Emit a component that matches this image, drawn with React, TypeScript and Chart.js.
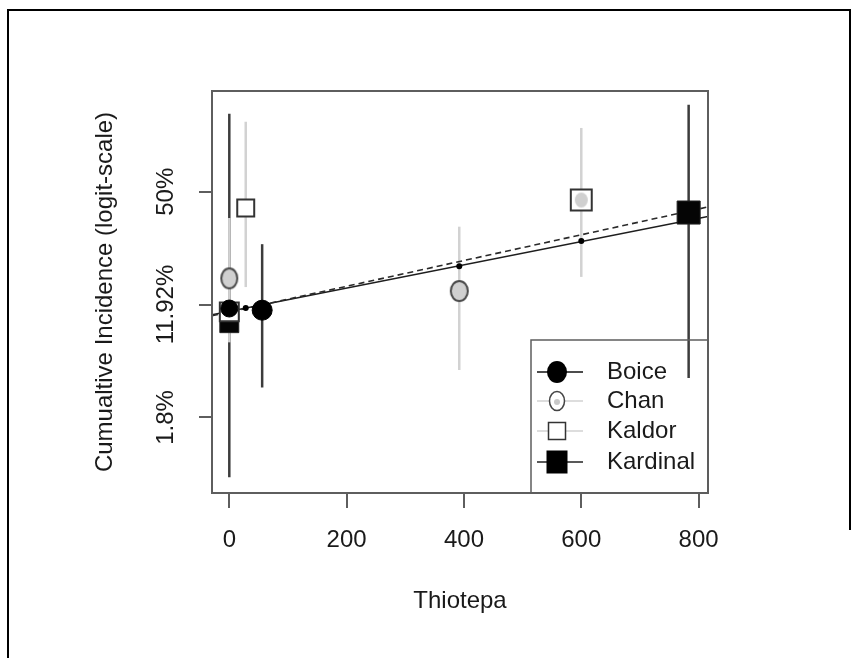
import React, { useEffect, useRef } from "react";
import { Chart, registerables } from "chart.js";

Chart.register(...registerables);

// ---------- data (y values are on the logit scale) ----------
const studies = ["Boice", "Chan", "Kaldor", "Kardinal"];
const xTicks = [0, 200, 400, 600, 800];
const yTickValues = [-4, -2, 0];
const yTickLabels = ["1.8%", "11.92%", "50%"];

const boiceX = [0, 56];
const boiceY = [-2.07, -2.1];
const boiceBarX = [56];
const boiceBarLo = [-3.47];
const boiceBarHi = [-0.93];

const chanX = [0, 392, 600];
const chanY = [-1.535, -1.76, -0.147];
const chanBarX = [0, 392];
const chanBarLo = [-2.67, -3.16];
const chanBarHi = [-0.466, -0.62];

const kaldorX = [0, 28, 600];
const kaldorY = [-2.13, -0.29, -0.147];
const kaldorBarX = [28, 600];
const kaldorBarLo = [-1.69, -1.51];
const kaldorBarHi = [1.24, 1.13];

const kardinalX = [0, 783];
const kardinalY = [-2.33, -0.369];
const kardinalBarX = [0, 783];
const kardinalBarLo = [-5.06, -3.3];
const kardinalBarHi = [1.38, 1.54];

const fittedX = [28, 392, 600];
const fittedY = [-2.06, -1.32, -0.874];

const fitSolidX = [-29.5, 816];
const fitSolidY = [-2.18, -0.44];
const fitDashedX = [-29.5, 816];
const fitDashedY = [-2.2, -0.27];

const xMin = -29.5;
const xMax = 816;
const yMin = -5.34;
const yMax = 1.785;

// ---------- styles ----------
const FONT = "'Liberation Sans', Arial, Helvetica, sans-serif";
const TEXT = "#1a1a1a";
const AXIS = "#5e5e5e";
const DARK_BAR = "#3c3c3c";
const LIGHT_BAR = "#d2d2d2";
const boiceRadius = [8.5, 10];
const kaldorRadius = [13.4, 12, 14.8];
const kardinalRadius = [13.4, 16.3];
const chanSizes: [number, number, boolean][] = [
  [18, 22, true],
  [19, 22, true],
  [13, 15, false],
];

function makeEllipse(w: number, h: number, fill: string, stroke: string | null, lw: number) {
  const c = document.createElement("canvas");
  c.width = w + 2;
  c.height = h + 2;
  const g = c.getContext("2d")!;
  g.beginPath();
  const sw = stroke ? lw : 0;
  g.ellipse(c.width / 2, c.height / 2, (w - sw) / 2, (h - sw) / 2, 0, 0, Math.PI * 2);
  g.fillStyle = fill;
  g.fill();
  if (stroke) {
    g.lineWidth = lw;
    g.strokeStyle = stroke;
    g.stroke();
  }
  return c;
}

function barSets(xs: number[], lo: number[], hi: number[], color: string, order: number) {
  return xs.map((x, i) => ({
    data: [
      { x, y: lo[i] },
      { x, y: hi[i] },
    ],
    showLine: true,
    borderColor: color,
    borderWidth: 2.5,
    pointRadius: 0,
    order,
  }));
}

const pts = (xs: number[], ys: number[]) => xs.map((x, i) => ({ x, y: ys[i] }));

export default function App() {
  const ref = useRef<HTMLCanvasElement>(null);

  useEffect(() => {
    const canvas = ref.current!;
    const chanImgs = chanSizes.map(([w, h, b]) =>
      makeEllipse(w, h, "#d0d0d0", b ? "#4a4a4a" : null, 2)
    );

    const decor = {
      id: "decor",
      beforeDraw(chart: any) {
        const ctx = chart.ctx;
        ctx.save();
        ctx.fillStyle = "#ffffff";
        ctx.fillRect(0, 0, chart.width, chart.height);
        ctx.restore();
      },
      afterDraw(chart: any) {
        const ctx = chart.ctx;
        const a = chart.chartArea;
        const ys = chart.scales.y;
        ctx.save();
        // plot box
        ctx.strokeStyle = AXIS;
        ctx.lineWidth = 2;
        ctx.strokeRect(a.left, a.top, a.right - a.left, a.bottom - a.top);
        // outer frame
        ctx.strokeStyle = "#000";
        ctx.lineWidth = 2;
        ctx.beginPath();
        ctx.moveTo(8, 658);
        ctx.lineTo(8, 10);
        ctx.lineTo(850, 10);
        ctx.lineTo(850, 530);
        ctx.stroke();
        // y tick labels (parallel to axis)
        ctx.fillStyle = TEXT;
        ctx.font = `24px ${FONT}`;
        ctx.textAlign = "center";
        ctx.textBaseline = "middle";
        yTickValues.forEach((v, i) => {
          const py = ys.getPixelForValue(v);
          ctx.save();
          ctx.translate(166, py);
          ctx.rotate(-Math.PI / 2);
          ctx.fillText(yTickLabels[i], 0, 0);
          ctx.restore();
        });
        // legend
        const lx = 531, ly = 340;
        ctx.strokeStyle = AXIS;
        ctx.lineWidth = 1.5;
        ctx.strokeRect(lx, ly, a.right - lx, a.bottom - ly);
        const rowY = [372, 401, 431, 462];
        const lineCol = ["#111", LIGHT_BAR, LIGHT_BAR, "#222"];
        const sx = 557;
        studies.forEach((name, i) => {
          const y = rowY[i];
          ctx.strokeStyle = lineCol[i];
          ctx.lineWidth = 1.5;
          ctx.beginPath();
          ctx.moveTo(537, y);
          ctx.lineTo(583, y);
          ctx.stroke();
          if (i === 0) {
            ctx.fillStyle = "#000";
            ctx.beginPath();
            ctx.ellipse(sx, y, 10, 11, 0, 0, Math.PI * 2);
            ctx.fill();
          } else if (i === 1) {
            ctx.fillStyle = "#fff";
            ctx.strokeStyle = "#444";
            ctx.lineWidth = 1.5;
            ctx.beginPath();
            ctx.ellipse(sx, y, 7.5, 9.5, 0, 0, Math.PI * 2);
            ctx.fill();
            ctx.stroke();
            ctx.fillStyle = "#c8c8c8";
            ctx.beginPath();
            ctx.arc(sx, y + 1, 3, 0, Math.PI * 2);
            ctx.fill();
          } else if (i === 2) {
            ctx.fillStyle = "#fff";
            ctx.strokeStyle = "#333";
            ctx.lineWidth = 1.5;
            ctx.fillRect(sx - 8.5, y - 8.5, 17, 17);
            ctx.strokeRect(sx - 8.5, y - 8.5, 17, 17);
          } else {
            ctx.fillStyle = "#000";
            ctx.fillRect(sx - 10.5, y - 11.5, 21, 23);
          }
          ctx.fillStyle = TEXT;
          ctx.font = `24px ${FONT}`;
          ctx.textAlign = "left";
          ctx.textBaseline = "middle";
          ctx.fillText(name, 607, y);
        });
        ctx.restore();
      },
    };

    const datasets: any[] = [
      ...barSets(kaldorBarX, kaldorBarLo, kaldorBarHi, LIGHT_BAR, 20),
      ...barSets(kardinalBarX, kardinalBarLo, kardinalBarHi, DARK_BAR, 19),
      ...barSets(chanBarX, chanBarLo, chanBarHi, LIGHT_BAR, 18),
      ...barSets(boiceBarX, boiceBarLo, boiceBarHi, DARK_BAR, 17),
      {
        data: pts(fitSolidX, fitSolidY),
        showLine: true,
        borderColor: "#1e1e1e",
        borderWidth: 1.6,
        pointRadius: 0,
        order: 10,
      },
      {
        data: pts(fitDashedX, fitDashedY),
        showLine: true,
        borderColor: "#2a2a2a",
        borderWidth: 1.6,
        borderDash: [6, 4],
        pointRadius: 0,
        order: 9,
      },
      {
        data: pts(fittedX, fittedY),
        pointStyle: "circle",
        pointRadius: 3,
        backgroundColor: "#000",
        borderColor: "#000",
        borderWidth: 0,
        order: 8,
      },
      {
        label: "Kardinal",
        data: pts(kardinalX, kardinalY),
        pointStyle: "rect",
        pointRadius: kardinalRadius,
        backgroundColor: "#050505",
        borderColor: "#222",
        borderWidth: 1,
        order: 3,
      },
      {
        label: "Kaldor",
        data: pts(kaldorX, kaldorY),
        pointStyle: "rect",
        pointRadius: kaldorRadius,
        backgroundColor: "#ffffff",
        borderColor: "#333",
        borderWidth: 2,
        order: 2,
      },
      {
        label: "Chan",
        data: pts(chanX, chanY),
        pointStyle: chanImgs,
        pointRadius: 10,
        order: 1,
      },
      {
        label: "Boice",
        data: pts(boiceX, boiceY),
        pointStyle: "circle",
        pointRadius: boiceRadius,
        backgroundColor: "#000",
        borderColor: "#000",
        borderWidth: 1,
        order: 0,
      },
    ];

    const chart = new Chart(canvas, {
      type: "scatter",
      data: { datasets },
      options: {
        animation: false,
        responsive: false,
        maintainAspectRatio: false,
        devicePixelRatio: 1,
        layout: { padding: { top: 91, right: 151, bottom: 0, left: 0 } },
        plugins: {
          legend: { display: false },
          tooltip: { enabled: false },
        },
        events: [],
        scales: {
          x: {
            type: "linear",
            min: xMin,
            max: xMax,
            afterBuildTicks: (s: any) => {
              s.ticks = xTicks.map((v) => ({ value: v }));
            },
            afterFit: (s: any) => {
              s.height = 165;
              s.paddingLeft = 0;
              s.paddingRight = 0;
            },
            ticks: {
              color: TEXT,
              font: { family: FONT, size: 24 },
              padding: 17.6,
              maxRotation: 0,
              minRotation: 0,
              autoSkip: false,
              callback: (v: any) => String(v),
            },
            grid: {
              drawOnChartArea: false,
              drawTicks: true,
              tickLength: 15,
              color: AXIS,
              lineWidth: 2,
            },
            border: { display: false },
            title: {
              display: true,
              text: "Thiotepa",
              color: TEXT,
              font: { family: FONT, size: 24 },
              padding: { top: 0, bottom: 41.9 },
            },
          },
          y: {
            type: "linear",
            min: yMin,
            max: yMax,
            afterBuildTicks: (s: any) => {
              s.ticks = yTickValues.map((v) => ({ value: v }));
            },
            afterFit: (s: any) => {
              s.width = 212;
              s.paddingTop = 0;
              s.paddingBottom = 0;
            },
            ticks: { display: false },
            grid: {
              drawOnChartArea: false,
              drawTicks: true,
              tickLength: 13,
              color: AXIS,
              lineWidth: 2,
            },
            border: { display: false },
            title: {
              display: true,
              text: "Cumualtive Incidence (logit-scale)",
              color: TEXT,
              font: { family: FONT, size: 24 },
              padding: { top: 90.6, bottom: 0 },
            },
          },
        },
      } as any,
      plugins: [decor],
    });

    return () => chart.destroy();
  }, []);

  return (
    <canvas
      ref={ref}
      width={859}
      height={658}
      style={{ position: "fixed", left: 0, top: 0, width: 859, height: 658 }}
    />
  );
}
